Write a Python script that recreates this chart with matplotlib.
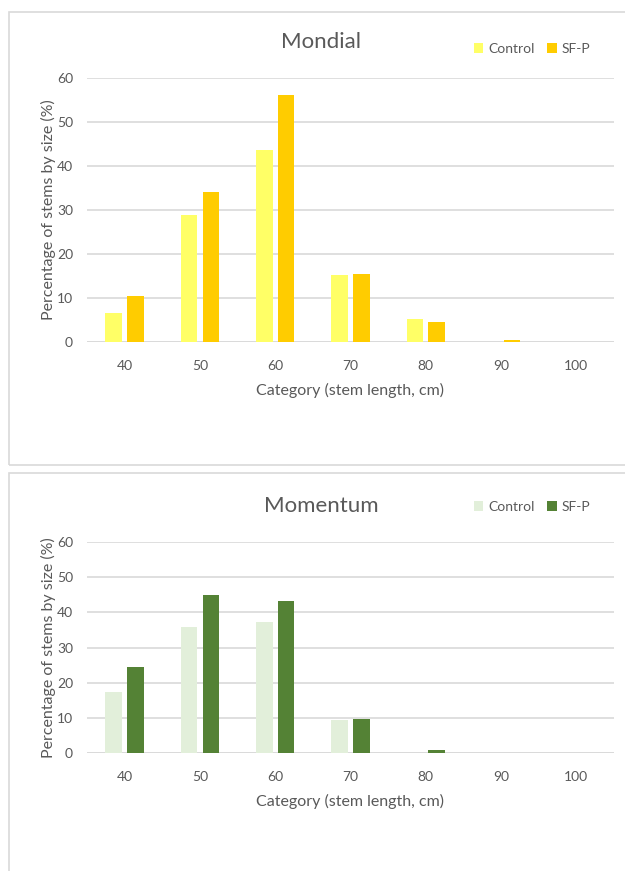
import numpy as np
import matplotlib.pyplot as plt
from matplotlib.patches import Rectangle

plt.rcParams["font.family"] = ["Lato", "DejaVu Sans"]

categories = ["40", "50", "60", "70", "80", "90", "100"]
series_names = ["Control", "SF-P"]

mondial_control = [6.5, 28.9, 43.6, 15.2, 5.2, 0.0, 0.0]
mondial_sfp = [10.4, 34.0, 56.2, 15.5, 4.6, 0.4, 0.0]

momentum_control = [17.2, 35.8, 37.2, 9.4, 0.0, 0.0, 0.0]
momentum_sfp = [24.4, 45.0, 43.3, 9.7, 0.7, 0.0, 0.0]

yticks = [0, 10, 20, 30, 40, 50, 60]

TEXT = "#595959"
GRID = "#D9D9D9"
W, H = 625, 871

fig = plt.figure(figsize=(W / 100, H / 100), dpi=100)

# panel frames
fig.add_artist(Rectangle((9 / W, 1 - 465 / H), 1, (465 - 12) / H, transform=fig.transFigure,
                         fill=False, edgecolor=GRID, lw=1.2))
fig.add_artist(Rectangle((9 / W, -0.01), 1, 0.01 + (H - 473) / H, transform=fig.transFigure,
                         fill=False, edgecolor=GRID, lw=1.2))


def draw_panel(rect, title, title_y, leg_y, control, sfp, colors):
    ax = fig.add_axes(rect)
    x = np.arange(len(categories))
    w = 0.22
    b1 = ax.bar(x - 0.145, control, w, color=colors[0], label=series_names[0], zorder=3)
    b2 = ax.bar(x + 0.145, sfp, w, color=colors[1], label=series_names[1], zorder=3)
    ax.set_xlim(-0.5, len(categories) - 0.5)
    ax.set_ylim(0, 60)
    ax.set_yticks(yticks)
    ax.set_xticks(x)
    ax.set_xticklabels(categories)
    ax.yaxis.grid(True, color=GRID, lw=1.2, zorder=0)
    ax.set_axisbelow(True)
    for s in ax.spines.values():
        s.set_visible(False)
    ax.axhline(0, color=GRID, lw=1.2, zorder=2)
    ax.tick_params(length=0, labelsize=10, labelcolor=TEXT)
    ax.tick_params(axis="x", pad=13)
    ax.tick_params(axis="y", pad=10)
    ax.set_xlabel("Category (stem length, cm)", fontsize=11.5, color=TEXT, labelpad=8)
    ax.set_ylabel("Percentage of stems by size (%)", fontsize=11.5, color=TEXT, labelpad=1)
    fig.text(321 / W, 1 - title_y / H, title, ha="center", va="center", fontsize=16, color=TEXT)
    fig.legend(handles=[b1, b2], loc="center", bbox_to_anchor=(532 / W, 1 - leg_y / H),
               ncol=2, frameon=False, fontsize=10, labelcolor=TEXT, handlelength=0.7,
               handleheight=0.7, handletextpad=0.35, columnspacing=0.9)
    return ax


draw_panel([87 / W, 1 - 342 / H, 527 / W, 264 / H], "Mondial", 42, 49,
           mondial_control, mondial_sfp, ["#FFFF66", "#FFCC00"])
draw_panel([87 / W, 1 - 752.7 / H, 527 / W, 210.4 / H], "Momentum", 505.7, 506.7,
           momentum_control, momentum_sfp, ["#E2EFDA", "#548235"])

fig.savefig("out.png", dpi=100)
